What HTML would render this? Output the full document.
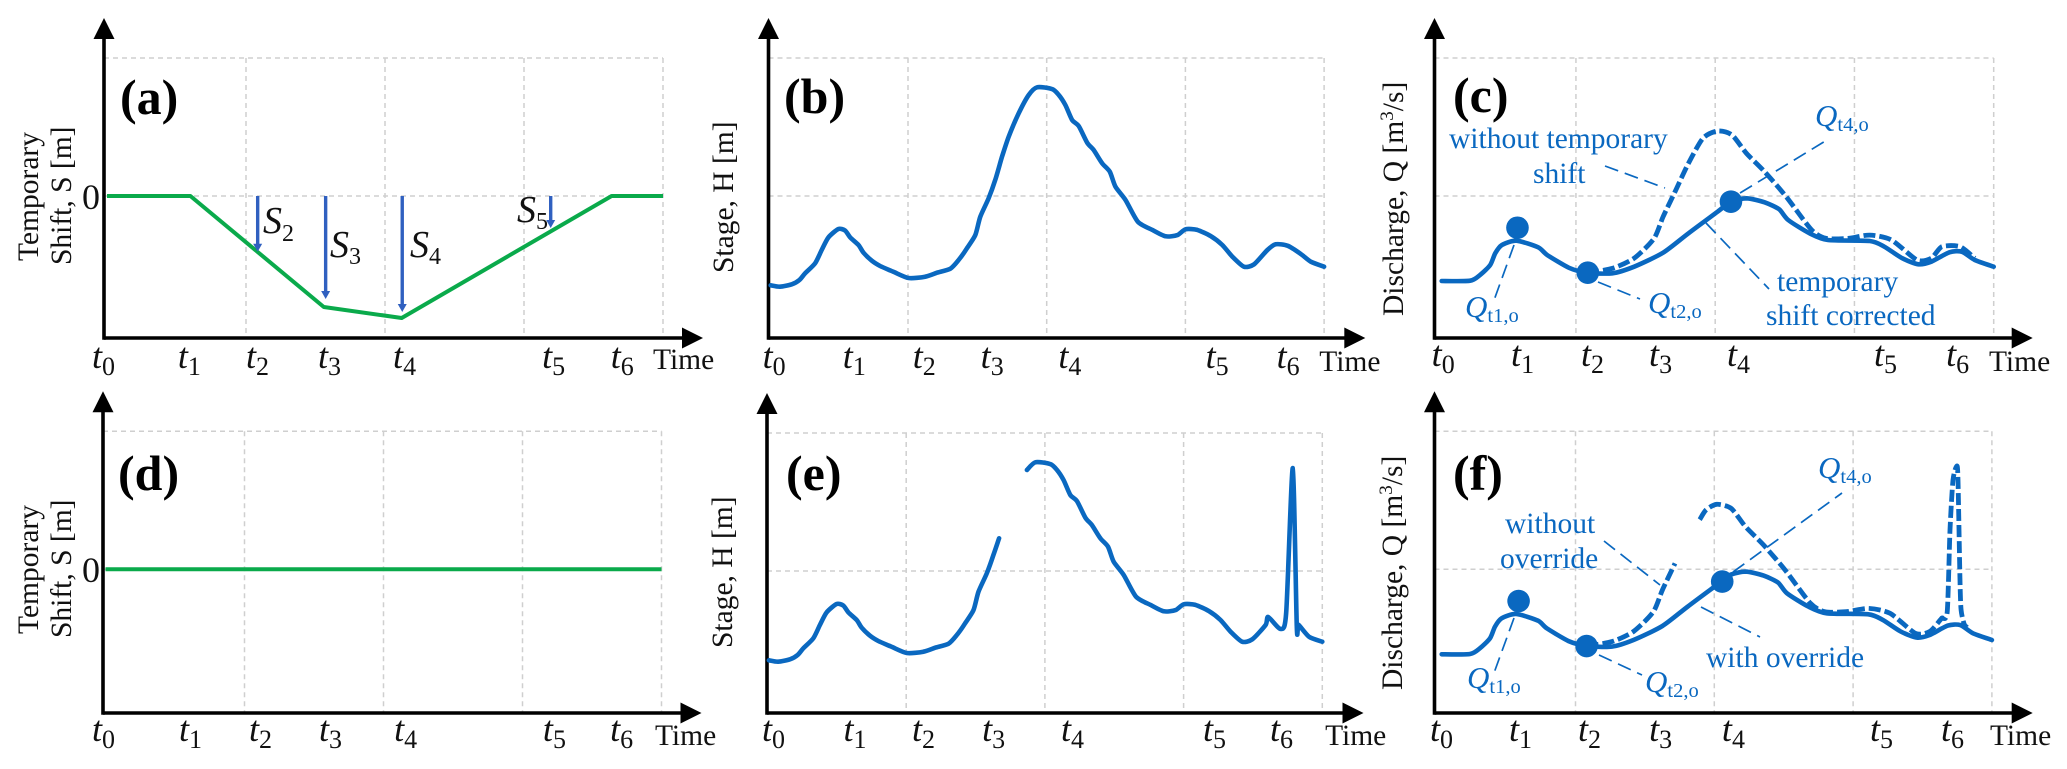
<!DOCTYPE html>
<html lang="en">
<head>
<meta charset="utf-8">
<title>Temporary shift and override hydrographs</title>
<style>
html,body{margin:0;padding:0;background:#fff;}
svg{display:block;font-family:"Liberation Serif",serif;}
.blue{fill:#0a68c0;font-size:29.5px;}
.axt{fill:#111;font-size:29.5px;}
.plet{fill:#000;font-size:50px;font-weight:bold;}
.q{fill:#0a68c0;font-size:31px;font-style:italic;}
.qs{font-size:20.5px;font-style:normal;}
.sl{fill:#111;font-size:38px;font-style:italic;}
.sls{font-size:24px;font-style:normal;}
.lead{stroke:#0a68c0;stroke-width:1.7;stroke-dasharray:14 7;fill:none;}
</style>
</head>
<body>
<svg id="chart" xmlns="http://www.w3.org/2000/svg" width="2067" height="769" viewBox="0 0 2067 769">
  <rect x="0" y="0" width="2067" height="769" fill="#fff"/>
  <g id="marks"></g>

  <text class="plet" x="120" y="114">(a)</text>
  <text class="plet" x="784" y="113">(b)</text>
  <text class="plet" x="1453" y="112">(c)</text>
  <text class="plet" x="118" y="490">(d)</text>
  <text class="plet" x="786" y="490">(e)</text>
  <text class="plet" x="1453" y="490">(f)</text>

  <text class="axt" transform="translate(38,261) rotate(-90)">Temporary</text>
  <text class="axt" transform="translate(71,265) rotate(-90)">Shift, S [m]</text>
  <text class="axt" transform="translate(38,634) rotate(-90)">Temporary</text>
  <text class="axt" transform="translate(71,638) rotate(-90)">Shift, S [m]</text>
  <text class="axt" transform="translate(733,273) rotate(-90)">Stage, H [m]</text>
  <text class="axt" transform="translate(732,648) rotate(-90)">Stage, H [m]</text>
  <text class="axt" transform="translate(1403,316) rotate(-90)">Discharge, Q [m<tspan font-size="19" dy="-10">3</tspan><tspan dy="10">/s]</tspan></text>
  <text class="axt" transform="translate(1402,690) rotate(-90)">Discharge, Q [m<tspan font-size="19" dy="-10">3</tspan><tspan dy="10">/s]</tspan></text>

  <text x="82" y="209" font-size="36" fill="#111">0</text>
  <text x="82" y="582" font-size="36" fill="#111">0</text>

  <text class="sl" x="263" y="233">S<tspan class="sls" dy="8">2</tspan></text>
  <text class="sl" x="330" y="257">S<tspan class="sls" dy="7">3</tspan></text>
  <text class="sl" x="410" y="257">S<tspan class="sls" dy="7">4</tspan></text>
  <text class="sl" x="517" y="222">S<tspan class="sls" dy="7">5</tspan></text>

  <text class="blue" x="1449" y="148">without temporary</text>
  <text class="blue" x="1533" y="183">shift</text>
  <text class="blue" x="1777" y="291">temporary</text>
  <text class="blue" x="1766" y="325">shift corrected</text>
  <text class="blue" x="1505" y="533">without</text>
  <text class="blue" x="1500" y="568">override</text>
  <text class="blue" x="1706" y="667">with override</text>

  <text class="q" x="1465" y="317">Q<tspan class="qs" dy="5">t1,o</tspan></text>
  <text class="q" x="1648" y="313">Q<tspan class="qs" dy="5">t2,o</tspan></text>
  <text class="q" x="1815" y="126">Q<tspan class="qs" dy="5">t4,o</tspan></text>
  <text class="q" x="1467" y="688">Q<tspan class="qs" dy="5">t1,o</tspan></text>
  <text class="q" x="1645" y="692">Q<tspan class="qs" dy="5">t2,o</tspan></text>
  <text class="q" x="1818" y="478">Q<tspan class="qs" dy="5">t4,o</tspan></text>

  <line class="lead" x1="1514" y1="245" x2="1493" y2="303"/>
  <line class="lead" x1="1598" y1="282" x2="1640" y2="299"/>
  <line class="lead" x1="1740" y1="193" x2="1827" y2="140"/>
  <line class="lead" x1="1605" y1="166" x2="1665" y2="188"/>
  <line class="lead" x1="1706" y1="223" x2="1769" y2="289"/>
  <line class="lead" x1="1514" y1="618" x2="1494" y2="673"/>
  <line class="lead" x1="1599" y1="655" x2="1642" y2="675"/>
  <line class="lead" x1="1733" y1="572" x2="1842" y2="493"/>
  <line class="lead" x1="1604" y1="541" x2="1660" y2="585"/>
  <line class="lead" x1="1701" y1="607" x2="1760" y2="637"/>
</svg>
<script>
// ---- Data: time on a 0-400 scale (one grid cell = 100), values on a 0-200 scale ----
const tickLabels = ['t0','t1','t2','t3','t4','t5','t6'];
const ticksA = [-10.8,51,100,151.8,205.8,313,362.4];
const ticksB = [-4.8,53,103.4,152.4,208.4,314.6,365.8];
const ticksC = [-3.6,53.4,103.6,152.5,208.5,314,365.8];
const ticksD = [-9.7,52.9,103.2,153.6,207.6,314.7,363];
const ticksE = [-4,54.8,104.2,154.7,211.6,314,362.3];
const ticksF = [-4.8,52.1,101.8,153,205.5,312.2,363.3];
const gridTimes = [100,200,300,400];
const gridValues = [100,200];

const shiftTime = [0,60,156,212,363,400];
const shiftValue = [0,0,-80.4,-88.4,0,0];
const noShiftTime = [0,400];
const noShiftValue = [0,0];
const arrowTime = [108.4,157.3,212.4,319.2];
const arrowValue = [-40.4,-74.6,-84.1,-23.2];

const stageTime = [1,7.7,16.2,21.7,25.8,33,37.8,42.6,49.8,54.7,58.3,64.3,67.9,73.9,79.9,89.5,100.4,112.4,120.9,130.5,136.5,142.5,148.5,152.1,158.1,162.9,167.8,172.6,179.8,187,193.1,203.9,208.7,213.5,218.3,223.1,229.2,233.9,240,245.5,249.6,256.8,265.7,276.1,285.7,294.2,300.1,308.6,318.2,326.6,333.9,342.2,349.5,359.1,365.1,373.6,383.2,390.4,400];
const stageValue = [35.3,34.3,36,39.1,44,51.2,60.9,70,76.1,74.9,70,64.5,58.9,53.1,49.3,45.1,40.6,41.5,44.4,47.3,53.6,62.1,71.7,85,98.3,111.6,128.5,143,159.9,173.2,178.8,177.5,173.2,165.9,155.1,150.7,138.6,133.3,123.7,117.6,106.7,97.1,81.4,75.4,70.8,71.7,75.9,75.4,71,64.5,56,48.8,50.5,60.9,65,64,58,52.4,48.8];
const stageGapStart = 167;
const stageGapEndValue = 123.7;
const stageGapResume = 187;
const stageSpikeTime = [361,370,374,378.7,381.6,383,390.4,400];
const stageSpikeValue = [66.7,58,70,174.6,59.4,60.9,52.4,48.8];

const flowTime = [3.6,24,31.2,38.4,42,46.8,57.3,72.9,79.4,95,108,126.2,141.8,162.6,180.8,201.7,211.3,222.5,235.5,245.9,252.4,267.8,281,311,321.4,334.3,346,355.2,368.2,377.2,386.4,400];
const flowValue = [38.4,38.6,42.8,50,58.5,64.5,67.6,62.8,57.2,48,44.4,44,48.8,58.9,73,88.6,95.9,98.3,95.4,90.4,82.6,73,68.1,67.4,63.3,54.9,50.5,52.4,59.2,59.6,53.6,48.8];
const rawFlowTime = [108,126.2,141.8,156.1,162.6,171.7,180.8,191.2,201.7,212.1,222.5,235.5,251,269.2,279.7,295.2,311,326.6,344.9,355.2,362.8,375.8,386.4];
const rawFlowValue = [44.4,47.6,54.9,69.3,85,104.3,123.7,141.8,147.1,144.2,130.9,117.6,99.5,75.4,69.3,69.3,71.7,68.1,53.6,54.9,63.3,63.3,54.9];
const rawFlowGapStart = 173;
const rawResumeTime = [189.5,194];
const rawResumeValue = [136,143];
const rawSpikeTime = [364,367.8,369.8,372,374.7,375.6,377,377.8,380,382];
const rawSpikeValue = [64.7,69,128.5,164.7,174.9,164.7,92,70.5,60.4,58];
const obsTopTime = [58,108.5,211.3];
const obsTopValue = [77,44.4,95.9];
const obsBottomTime = [59,108,205.7];
const obsBottomValue = [77,44.4,91.1];

// ---- Rendering ----
const NS = 'http://www.w3.org/2000/svg';
const root = document.getElementById('marks');
const BLUE = '#0a68c0', GREEN = '#0aaa4b', ARROW = '#3060c0', GRID = '#cfcfcf';

function mk(tag, attrs, name, parent) {
  const el = document.createElementNS(NS, tag);
  for (const k in attrs) el.setAttribute(k, attrs[k]);
  
  
  (parent || root).appendChild(el);
  return el;
}

function polyline(ts, vs, xf, yf, style, name, parent) {
  let d = '';
  ts.forEach(function (t, i) {
    d += (i ? 'L' : 'M') + xf(t).toFixed(1) + ' ' + yf(vs[i]).toFixed(1);
  });
  return mk('path', Object.assign({ d: d, fill: 'none', 'stroke-linejoin': 'round' }, style), name, parent);
}

function curve(ts, vs, xf, yf, style, name, parent) {
  const px = ts.map(function (t, i) { return [xf(t), yf(vs[i])]; });
  const f = 0.12;
  let d = 'M' + px[0][0].toFixed(1) + ' ' + px[0][1].toFixed(1);
  for (let i = 0; i < px.length - 1; i++) {
    const p0 = px[Math.max(i - 1, 0)], p1 = px[i], p2 = px[i + 1], p3 = px[Math.min(i + 2, px.length - 1)];
    const c1x = p1[0] + (p2[0] - p0[0]) * f, c1y = p1[1] + (p2[1] - p0[1]) * f;
    const c2x = p2[0] - (p3[0] - p1[0]) * f, c2y = p2[1] - (p3[1] - p1[1]) * f;
    d += 'C' + c1x.toFixed(1) + ' ' + c1y.toFixed(1) + ' ' + c2x.toFixed(1) + ' ' + c2y.toFixed(1) + ' ' + p2[0].toFixed(1) + ' ' + p2[1].toFixed(1);
  }
  return mk('path', Object.assign({ d: d, fill: 'none', 'stroke-linejoin': 'round' }, style), name, parent);
}

function segment(ts, vs, lo, hi) {
  const keep = ts.map(function (t, i) { return t >= lo && t <= hi ? i : -1; }).filter(function (i) { return i >= 0; });
  return [keep.map(function (i) { return ts[i]; }), keep.map(function (i) { return vs[i]; })];
}

function panel(id, X0, k, base, axisY, axisX, ticks, timeTick, timeY, tickY) {
  const g = mk('g', {}, 'panel-' + id, root);
  const x = function (t) { return X0 + t * k; };
  const y = function (v) { return base - v * 1.38; };
  gridTimes.forEach(function (t) {
    mk('line', { x1: x(t), x2: x(t), y1: y(200), y2: axisY, stroke: GRID, 'stroke-width': 1.5, 'stroke-dasharray': '5 4' }, 'panel-' + id + '-vertical-gridline', g);
  });
  gridValues.forEach(function (v) {
    mk('line', { x1: axisX, x2: x(400), y1: y(v), y2: y(v), stroke: GRID, 'stroke-width': 1.5, 'stroke-dasharray': '5 4' }, 'panel-' + id + '-horizontal-gridline', g);
  });
  const top = base - 316;
  mk('line', { x1: axisX, x2: axisX, y1: top + 15, y2: axisY + 1.7, stroke: '#000', 'stroke-width': 3.6 }, 'panel-' + id + '-y-axis', g);
  mk('polygon', { points: (axisX - 10.5) + ',' + (top + 21) + ' ' + axisX + ',' + top + ' ' + (axisX + 10.5) + ',' + (top + 21), fill: '#000' }, 'panel-' + id + '-y-axis-arrow', g);
  mk('line', { x1: axisX, x2: X0 + 578, y1: axisY, y2: axisY, stroke: '#000', 'stroke-width': 3.6 }, 'panel-' + id + '-x-axis', g);
  mk('polygon', { points: (X0 + 575) + ',' + (axisY - 10.5) + ' ' + (X0 + 596) + ',' + axisY + ' ' + (X0 + 575) + ',' + (axisY + 10.5), fill: '#000' }, 'panel-' + id + '-x-axis-arrow', g);
  ticks.forEach(function (t, i) {
    const label = tickLabels[i];
    const txt = mk('text', { x: x(t), y: tickY, 'font-size': 36, 'font-style': 'italic', fill: '#111' }, 'panel-' + id + '-tick-' + label, g);
    const a = document.createElementNS(NS, 'tspan');
    a.textContent = label.charAt(0);
    txt.appendChild(a);
    const b = document.createElementNS(NS, 'tspan');
    b.setAttribute('font-size', '26');
    b.setAttribute('font-style', 'normal');
    b.setAttribute('dy', '7');
    b.textContent = label.slice(1);
    txt.appendChild(b);
  });
  const tt = mk('text', { x: x(timeTick), y: timeY, 'font-size': 29.5, fill: '#111' }, 'panel-' + id + '-x-axis-title', g);
  tt.textContent = 'Time';
  return { g: g, x: x, y: y };
}

const solid = { stroke: BLUE, 'stroke-width': 4.6, 'stroke-linecap': 'round' };
const dashed = { stroke: BLUE, 'stroke-width': 4.8, 'stroke-dasharray': '12 4' };
const greenLine = { stroke: GREEN, 'stroke-width': 4 };

// Panel a
const pa = panel('a', 107, 1.39, 334, 338, 104, ticksA, 392.8, 369, 368);
polyline(shiftTime, shiftValue, pa.x, function (v) { return pa.y(100 + v); }, greenLine, 'temporary-shift-line', pa.g);
arrowTime.forEach(function (t, i) {
  const xx = pa.x(t), y0 = pa.y(100), y1 = pa.y(100 + arrowValue[i]);
  mk('line', { x1: xx, x2: xx, y1: y0, y2: y1 - 7, stroke: ARROW, 'stroke-width': 3.4 }, 'shift-arrow-shaft', pa.g);
  mk('polygon', { points: (xx - 4.5) + ',' + (y1 - 8) + ' ' + xx + ',' + y1 + ' ' + (xx + 4.5) + ',' + (y1 - 8), fill: ARROW }, 'shift-arrow-head', pa.g);
});

// Panel b
const pb = panel('b', 769.3, 1.387, 334, 338, 768.5, ticksB, 396.5, 371, 368);
curve(stageTime, stageValue, pb.x, pb.y, solid, 'stage-line', pb.g);

// Panel c
const pc = panel('c', 1436.7, 1.3925, 334, 338, 1434.5, ticksC, 396.6, 371, 366);
curve(rawFlowTime, rawFlowValue, pc.x, pc.y, dashed, 'discharge-without-shift-line', pc.g);
curve(flowTime, flowValue, pc.x, pc.y, solid, 'discharge-shift-corrected-line', pc.g);
obsTopTime.forEach(function (t, i) {
  mk('circle', { cx: pc.x(t), cy: pc.y(obsTopValue[i]), r: 11.3, fill: BLUE }, 'discharge-observation-point', pc.g);
});

// Panel d
const pd = panel('d', 105.5, 1.39, 707.3, 713, 103, ticksD, 395.3, 745, 741);
polyline(noShiftTime, noShiftValue, pd.x, function (v) { return pd.y(100 + v); }, greenLine, 'zero-shift-line', pd.g);

// Panel e
const pe = panel('e', 767.5, 1.387, 709, 713, 767, ticksE, 402, 745, 741);
const e1 = segment(stageTime, stageValue, 0, stageGapStart - 1);
const e2 = segment(stageTime, stageValue, stageGapResume, stageSpikeTime[0] - 1);
curve(e1[0].concat([stageGapStart]), e1[1].concat([stageGapEndValue]), pe.x, pe.y, solid, 'stage-line-before-gap', pe.g);
curve(e2[0].concat(stageSpikeTime), e2[1].concat(stageSpikeValue), pe.x, pe.y, solid, 'stage-line-after-gap-with-spike', pe.g);

// Panel f
const pf = panel('f', 1436.7, 1.388, 707.3, 713, 1434.5, ticksF, 398.6, 745, 741);
const f1 = segment(rawFlowTime, rawFlowValue, 0, rawFlowGapStart);
const f2 = segment(rawFlowTime, rawFlowValue, rawResumeTime[1] + 1, rawSpikeTime[0] - 1);
curve(f1[0], f1[1], pf.x, pf.y, dashed, 'discharge-without-override-line-before-gap', pf.g);
curve(rawResumeTime.concat(f2[0], rawSpikeTime), rawResumeValue.concat(f2[1], rawSpikeValue), pf.x, pf.y, dashed, 'discharge-without-override-line-after-gap', pf.g);
curve(flowTime, flowValue, pf.x, pf.y, solid, 'discharge-with-override-line', pf.g);
obsBottomTime.forEach(function (t, i) {
  mk('circle', { cx: pf.x(t), cy: pf.y(obsBottomValue[i]), r: 11.3, fill: BLUE }, 'discharge-observation-point', pf.g);
});
</script>
</body>
</html>
